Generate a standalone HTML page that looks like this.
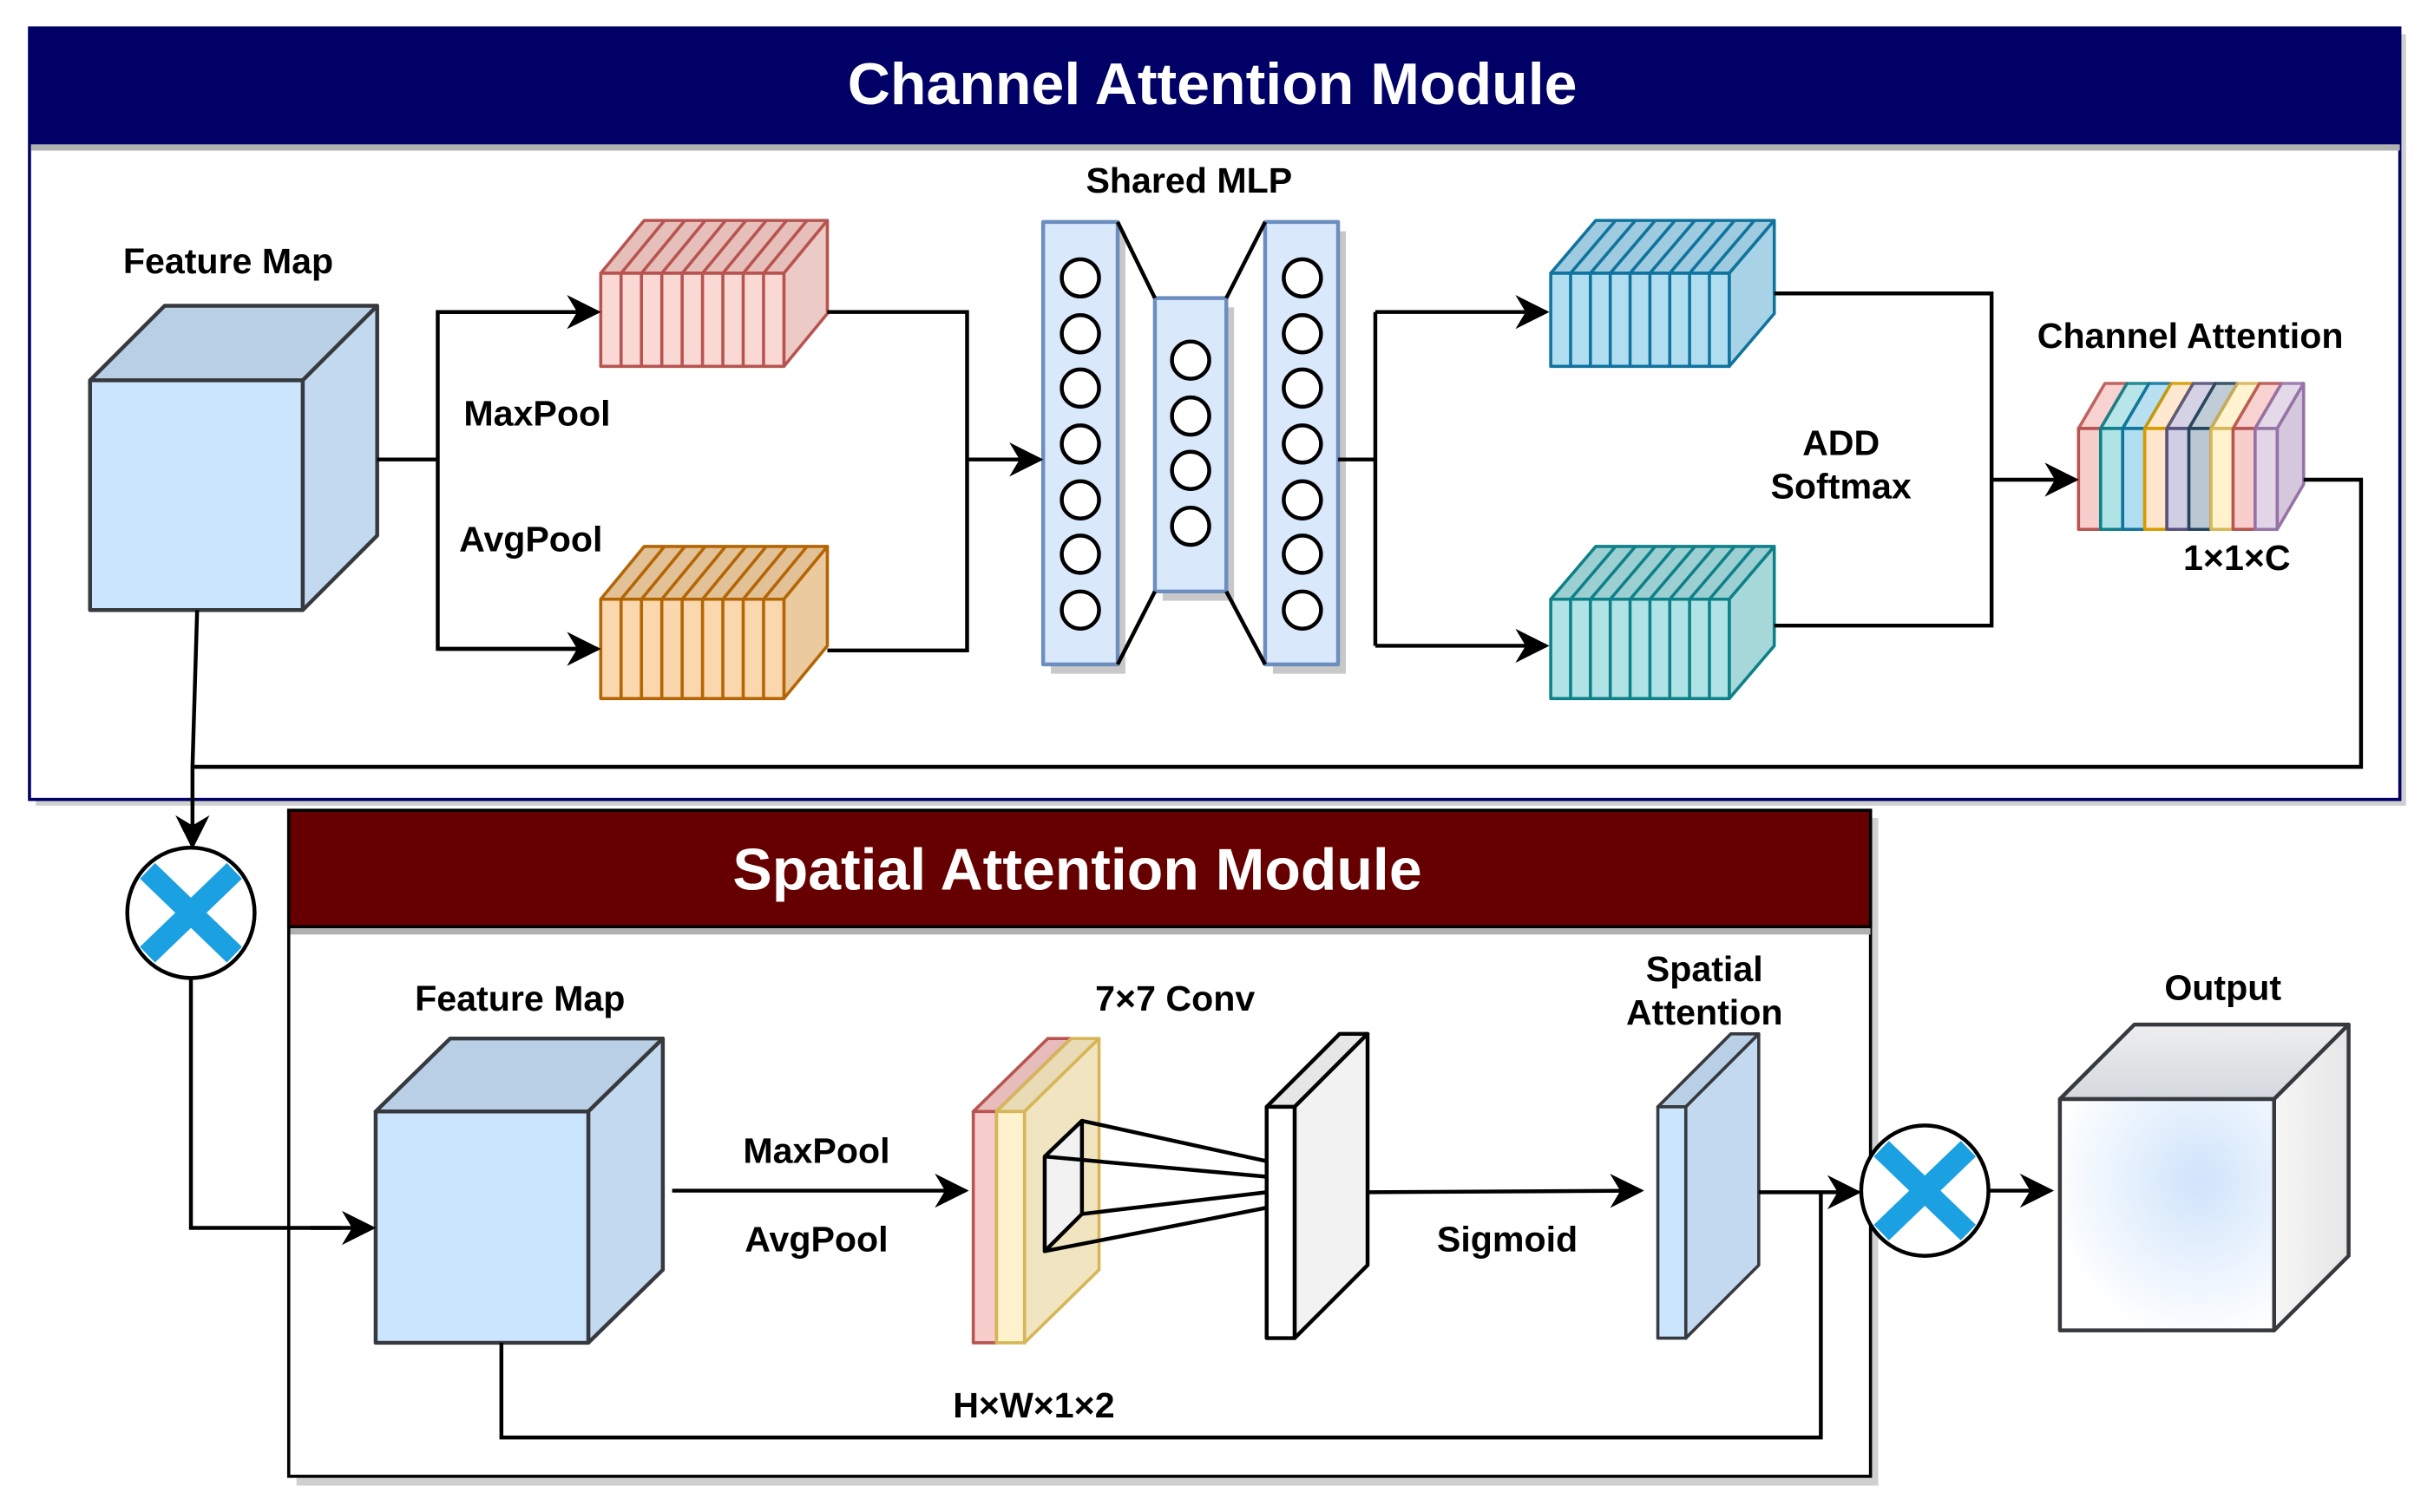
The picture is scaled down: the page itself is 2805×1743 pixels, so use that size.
<!DOCTYPE html>
<html><head><meta charset="utf-8"><style>
html,body{margin:0;padding:0;background:#fff}
svg{display:block}
text{font-family:"Liberation Sans",Arial,sans-serif;font-weight:bold}
</style></head><body>
<svg id="s" width="2805" height="1743" viewBox="0 0 1568 974" preserveAspectRatio="none" xmlns="http://www.w3.org/2000/svg">
<defs>
<marker id="a2" viewBox="0 0 10 10" markerWidth="22" markerHeight="22" refX="9" refY="5" orient="auto" markerUnits="userSpaceOnUse"><path d="M0,0 L10,5 L0,10 L3,5 z" fill="#000"/></marker>
<radialGradient id="og" cx="0.65" cy="0.35" r="0.7"><stop offset="0" stop-color="#d0e4fb"/><stop offset="1" stop-color="#fff"/></radialGradient>
<linearGradient id="ot" x1="0" y1="0" x2="0" y2="1"><stop offset="0" stop-color="#eeeeee"/><stop offset="1" stop-color="#d4d8de"/></linearGradient>
<linearGradient id="os" x1="0" y1="0" x2="1" y2="0"><stop offset="0" stop-color="#f6f6f6"/><stop offset="1" stop-color="#e6e6e6"/></linearGradient>
</defs>

<rect x="23" y="22" width="1527" height="497" fill="#d0d0d0"/>
<rect x="19" y="18" width="1527" height="497" fill="#fff" stroke="#000066" stroke-width="2"/>
<rect x="19" y="18" width="1527" height="75" fill="#000066"/>
<rect x="20" y="93" width="1526" height="4" fill="#b0b0b0"/>
<text x="781" y="67" font-size="38" fill="#fff" text-anchor="middle" textLength="470" lengthAdjust="spacingAndGlyphs">Channel Attention Module</text>

<rect x="191" y="527" width="1019" height="430" fill="#d0d0d0"/>
<rect x="186" y="522" width="1019" height="429" fill="#fff" stroke="#000" stroke-width="2"/>
<rect x="186" y="522" width="1019" height="75" fill="#660000" stroke="#000" stroke-width="2"/>
<rect x="187" y="598" width="1018" height="4" fill="#b0b0b0"/>
<text x="694" y="573" font-size="38" fill="#fff" text-anchor="middle" textLength="444" lengthAdjust="spacingAndGlyphs">Spatial Attention Module</text>

<g id="g" stroke-linejoin="round"></g>

<g stroke="#000" stroke-width="2.5" fill="none">
<polyline points="243,296 282,296"/>
<polyline points="385,201 282,201 282,418 385,418" />
<line x1="282" y1="201" x2="385" y2="201" marker-end="url(#a2)"/>
<line x1="282" y1="418" x2="385" y2="418" marker-end="url(#a2)"/>
<polyline points="533,201 623,201 623,419 533,419"/>
<line x1="623" y1="296" x2="670" y2="296" marker-end="url(#a2)"/>
<line x1="720" y1="143" x2="744" y2="192"/><line x1="720" y1="428" x2="744" y2="381"/>
<line x1="790" y1="192" x2="815" y2="143"/><line x1="790" y1="381" x2="815" y2="428"/>
<polyline points="862,296 886,296"/>
<polyline points="886,201 886,416"/>
<line x1="886" y1="201" x2="996" y2="201" marker-end="url(#a2)"/>
<line x1="886" y1="416" x2="996" y2="416" marker-end="url(#a2)"/>
<polyline points="1143,189 1283,189 1283,403 1143,403"/>
<line x1="1283" y1="309" x2="1337" y2="309" marker-end="url(#a2)"/>
<polyline points="1484,309 1521,309 1521,494 124,494"/>
<line x1="127" y1="393" x2="124" y2="494"/>
<line x1="124" y1="494" x2="124" y2="545" marker-end="url(#a2)"/>
<polyline points="123,630 123,791 220,791"/>
<line x1="200" y1="791" x2="240" y2="791" marker-end="url(#a2)"/>
<line x1="433" y1="767" x2="622" y2="767" marker-end="url(#a2)"/>
<line x1="881" y1="768" x2="1057" y2="767" marker-end="url(#a2)"/>
<line x1="1133" y1="768" x2="1197" y2="768" marker-end="url(#a2)"/>
<polyline points="323,865 323,926 1173,926 1173,768"/>
<line x1="1282" y1="767" x2="1321" y2="767" marker-end="url(#a2)"/>
</g>

<g>
<ellipse cx="123" cy="588" rx="41" ry="42" fill="#fff" stroke="#000" stroke-width="2.5"/>
<g stroke="#1ba1e2" stroke-width="14"><line x1="95" y1="561" x2="151" y2="615"/><line x1="151" y1="561" x2="95" y2="615"/></g>
<ellipse cx="1240" cy="767" rx="41" ry="42" fill="#fff" stroke="#000" stroke-width="2.5"/>
<g stroke="#1ba1e2" stroke-width="14"><line x1="1212" y1="740" x2="1268" y2="794"/><line x1="1268" y1="740" x2="1212" y2="794"/></g>
</g>

<g font-size="23" fill="#000" text-anchor="middle">
<text x="147" y="176">Feature Map</text>
<text x="346" y="274">MaxPool</text>
<text x="342" y="355">AvgPool</text>
<text x="766" y="124">Shared MLP</text>
<text x="1411" y="224">Channel Attention</text>
<text x="1186" y="293">ADD</text>
<text x="1186" y="321">Softmax</text>
<text x="1441" y="367">1×1×C</text>
<text x="335" y="651">Feature Map</text>
<text x="757" y="651">7×7 Conv</text>
<text x="526" y="749">MaxPool</text>
<text x="526" y="806">AvgPool</text>
<text x="666" y="913">H×W×1×2</text>
<text x="971" y="806">Sigmoid</text>
<text x="1098" y="632">Spatial</text>
<text x="1098" y="660">Attention</text>
<text x="1432" y="644">Output</text>
</g>
</svg>
<script>
(function(){
var g=document.getElementById('g'),NS='http://www.w3.org/2000/svg';
function el(t,a){var e=document.createElementNS(NS,t);for(var k in a)e.setAttribute(k,a[k]);g.appendChild(e);return e;}
function P(a){return a.map(function(p){return p.join(',')}).join(' ');}
function cube(x0,y0,x1,y1,dx,dy,front,top,side,st,sw){
 el('polygon',{points:P([[x0,y0],[x0+dx,y0+dy],[x1+dx,y0+dy],[x1,y0]]),fill:top,stroke:st,'stroke-width':sw});
 el('polygon',{points:P([[x1,y0],[x1+dx,y0+dy],[x1+dx,y1+dy],[x1,y1]]),fill:side,stroke:st,'stroke-width':sw});
 el('rect',{x:x0,y:y0,width:x1-x0,height:y1-y0,fill:front,stroke:st,'stroke-width':sw});
}
function slab(x0,y0,x1,y1,dx,dy,front,top,side,st,n){
 cube(x0,y0,x1,y1,dx,dy,front,top,side,st,2);
 var w=(x1-x0)/n;
 for(var i=1;i<n;i++){var x=x0+w*i;
  el('line',{x1:x,y1:y0,x2:x,y2:y1,stroke:st,'stroke-width':2});
  el('line',{x1:x,y1:y0,x2:x+dx,y2:y0+dy,stroke:st,'stroke-width':2});}
}
cube(58,245,195,393,48,-48,'#cce5ff','#b8cfe6','#c3d9f0','#36393d',2.5);
slab(387,176,505,236,28,-34,'#fad9d5','#e6bfbb','#eccac6','#b85450',9);
slab(387,386,505,450,28,-34,'#fad7ac','#e2c197','#eccaa0','#b46504',9);
slab(999,176,1114,236,29,-34,'#b1ddf0','#9ecbdf','#a8d2e5','#10739e',9);
slab(999,386,1114,450,29,-34,'#b0e3e6','#9ccfd2','#a6d8da','#0e8088',9);
[[672,143,48,285],[744,192,46,189],[815,143,47,285]].forEach(function(r){
 el('rect',{x:r[0]+5,y:r[1]+6,width:r[2],height:r[3],fill:'#c8c8c8'});
 el('rect',{x:r[0],y:r[1],width:r[2],height:r[3],fill:'#dae8fc',stroke:'#6c8ebf','stroke-width':2.5});
});
[179,215,250,286,322,357,393].forEach(function(y){
 el('circle',{cx:696,cy:y,r:12,fill:'#fff',stroke:'#000','stroke-width':2.5});
 el('circle',{cx:839,cy:y,r:12,fill:'#fff',stroke:'#000','stroke-width':2.5});});
[232,268,303,339].forEach(function(y){el('circle',{cx:767,cy:y,r:12,fill:'#fff',stroke:'#000','stroke-width':2.5});});
var cs=[['#f8cecc','#b85450'],['#b0e3e6','#0e8088'],['#b1ddf0','#10739e'],['#ffe6cc','#d79b00'],['#d0cee2','#56517e'],['#bac8d3','#23445d'],['#fff2cc','#d6b656'],['#f8cecc','#b85450'],['#e1d5e7','#9673a6']];
var x0=1339,w=128/9,dx=17,dy=-29;
cs.forEach(function(c,i){var a=x0+i*w,b=a+w;
 el('polygon',{points:P([[a,276],[a+dx,276+dy],[b+dx,276+dy],[b,276]]),fill:c[0],stroke:c[1],'stroke-width':2,opacity:0.9});
});
el('polygon',{points:P([[1467,276],[1484,247],[1484,312],[1467,341]]),fill:'#d5c8dd',stroke:'#9673a6','stroke-width':2});
cs.forEach(function(c,i){var a=x0+i*w;el('rect',{x:a,y:276,width:w,height:65,fill:c[0],stroke:c[1],'stroke-width':2});});
cube(242,716,379,865,48,-47,'#cce5ff','#b8cfe6','#c3d9f0','#36393d',2.5);
cube(627,716,642,865,48,-47,'#f8cecc','#e6bdbb','#e6bdbb','#b85450',2);
cube(642,716,660,865,48,-47,'#fff2cc','#e8dbb5','#f1e4c0','#d6b656',2);
el('polygon',{points:P([[673,745],[697,722],[697,782],[673,806]]),fill:'#f2f2f2',stroke:'#000','stroke-width':2.5});
[[697,722,816,748],[673,745,816,758],[697,782,816,768],[673,806,816,778]].forEach(function(l){el('line',{x1:l[0],y1:l[1],x2:l[2],y2:l[3],stroke:'#000','stroke-width':2.5});});
cube(816,713,834,862,47,-47,'#ffffff','#e6e6e6','#f2f2f2','#000',2.5);
cube(1068,713,1086,862,47,-47,'#cce5ff','#b8cfe6','#c3d9f0','#36393d',2);
cube(1327,708,1465,857,48,-48,'url(#og)','url(#ot)','url(#os)','#36393d',2.5);
})();
</script>
</body></html>
